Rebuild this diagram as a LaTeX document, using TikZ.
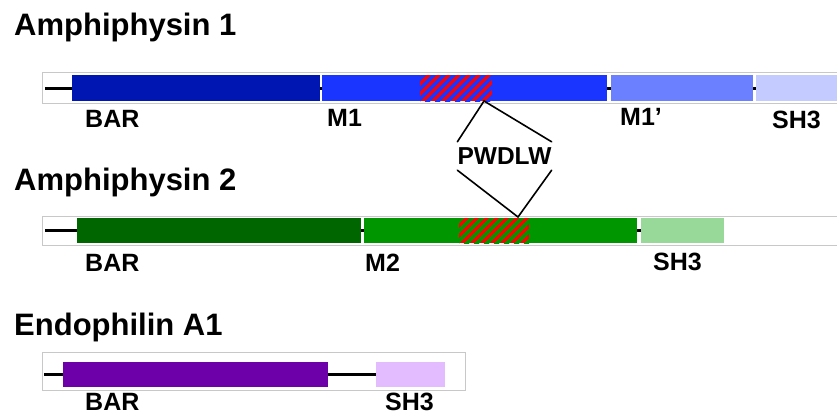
\documentclass[tikz,border=0pt]{standalone}
\usepackage{fontspec}
\setmainfont{Liberation Sans}
\definecolor{cAbar}{RGB}{0,22,178}
\definecolor{cAmone}{RGB}{26,53,255}
\definecolor{cAmonep}{RGB}{106,128,255}
\definecolor{cAsh}{RGB}{196,204,255}
\definecolor{cBbar}{RGB}{0,102,0}
\definecolor{cBmtwo}{RGB}{0,150,0}
\definecolor{cBsh}{RGB}{152,216,152}
\definecolor{cEbar}{RGB}{110,0,170}
\definecolor{cEsh}{RGB}{227,187,255}
\definecolor{boxgray}{RGB}{200,200,200}
\begin{document}
\begin{tikzpicture}[x=1pt,y=-1pt,
  dom/.style={rectangle, inner sep=0pt, outer sep=0pt, anchor=west, draw=none},
  lbl/.style={anchor=base west, inner sep=0pt, font=\fontsize{25}{30}\selectfont\bfseries},
  ttl/.style={anchor=base west, inner sep=0pt, font=\fontsize{31}{36}\selectfont\bfseries},
  frame/.style={draw=boxgray, line width=0.9pt},
  backbone/.style={draw=black, line width=3pt},
  link/.style={draw=black, line width=1.6pt, line cap=round}]
\useasboundingbox (0,0) rectangle (837,415);
\clip (0,0) rectangle (837,415);
\fill[white] (0,0) rectangle (837,415);

% ---------- titles
\node[ttl] (t1) at (14,35) {Amphiphysin 1};
\node[ttl] (t2) at (14,190) {Amphiphysin 2};
\node[ttl] (t3) at (14,335) {Endophilin A1};

% ---------- frames
\draw[frame] (42,72) rectangle (845,103);
\draw[frame] (42,216) rectangle (845,245);
\draw[frame] (42,352) rectangle (465,390);

% ---------- Amphiphysin 1
\coordinate (s1) at (45,88);
\node[dom, fill=cAbar, minimum width=248pt, minimum height=26pt] (a1bar) at (72,88) {};
\node[dom, fill=cAmone, minimum width=285pt, minimum height=26pt] (a1m1) at (322,88) {};
\node[dom, fill=cAmonep, minimum width=142pt, minimum height=26pt] (a1m1p) at (611,88) {};
\node[dom, fill=cAsh, minimum width=90pt, minimum height=26pt] (a1sh) at (756,88) {};
\draw[backbone] (s1) -- (a1bar.west);
\draw[backbone] (a1bar.east) -- (a1m1.west);
\draw[backbone] (a1m1.east) -- (a1m1p.west);
\draw[backbone] (a1m1p.east) -- (a1sh.west);
\begin{scope}
  \clip (420,75) rectangle (492,101);
  \fill[red] (420,75) rectangle (492,101);
  \foreach \i in {-34,-24,...,80}
    \draw[cAmone, line width=3.6pt] (420+\i,103) -- ++(30,-30);
\end{scope}
\node[lbl] (l1bar) at (85,127) {BAR};
\node[lbl] (l1m1) at (327,126) {M1};
\node[lbl] (l1m1p) at (620,125) {M1’};
\node[lbl] (l1sh) at (772,128) {SH3};

% ---------- Amphiphysin 2
\coordinate (s2) at (45,230.5);
\node[dom, fill=cBbar, minimum width=284pt, minimum height=25pt] (a2bar) at (77,230.5) {};
\node[dom, fill=cBmtwo, minimum width=273pt, minimum height=25pt] (a2m2) at (364,230.5) {};
\node[dom, fill=cBsh, minimum width=83pt, minimum height=25pt] (a2sh) at (641,230.5) {};
\draw[backbone] (s2) -- (a2bar.west);
\draw[backbone] (a2bar.east) -- (a2m2.west);
\draw[backbone] (a2m2.east) -- (a2sh.west);
\begin{scope}
  \clip (459,218) rectangle (529,243);
  \fill[red] (459,218) rectangle (529,243);
  \foreach \i in {-34,-24,...,80}
    \draw[cBmtwo, line width=3.6pt] (459+\i,245) -- ++(29,-29);
\end{scope}
\node[lbl] (l2bar) at (85,271) {BAR};
\node[lbl] (l2m2) at (365,271) {M2};
\node[lbl] (l2sh) at (653,270) {SH3};

% ---------- Endophilin A1
\coordinate (s3) at (44,374.5);
\node[dom, fill=cEbar, minimum width=265pt, minimum height=25pt] (ebar) at (63,374.5) {};
\node[dom, fill=cEsh, minimum width=69pt, minimum height=25pt] (esh) at (376,374.5) {};
\draw[backbone] (s3) -- (ebar.west);
\draw[backbone] (ebar.east) -- (esh.west);
\node[lbl] (l3bar) at (85,410) {BAR};
\node[lbl] (l3sh) at (385,410) {SH3};

% ---------- PWDLW motif
\node[inner sep=0pt, minimum width=87pt, minimum height=28pt,
      font=\fontsize{24.5}{30}\selectfont\bfseries] (pw) at (504.5,156) {PWDLW};
\coordinate (topapex) at (484,101);
\coordinate (botapex) at (518,217);
\draw[link] (topapex) -- (pw.north west);
\draw[link] (topapex) -- (pw.north east);
\draw[link] (pw.south west) -- (botapex);
\draw[link] (pw.south east) -- (botapex);
\end{tikzpicture}
\end{document}
